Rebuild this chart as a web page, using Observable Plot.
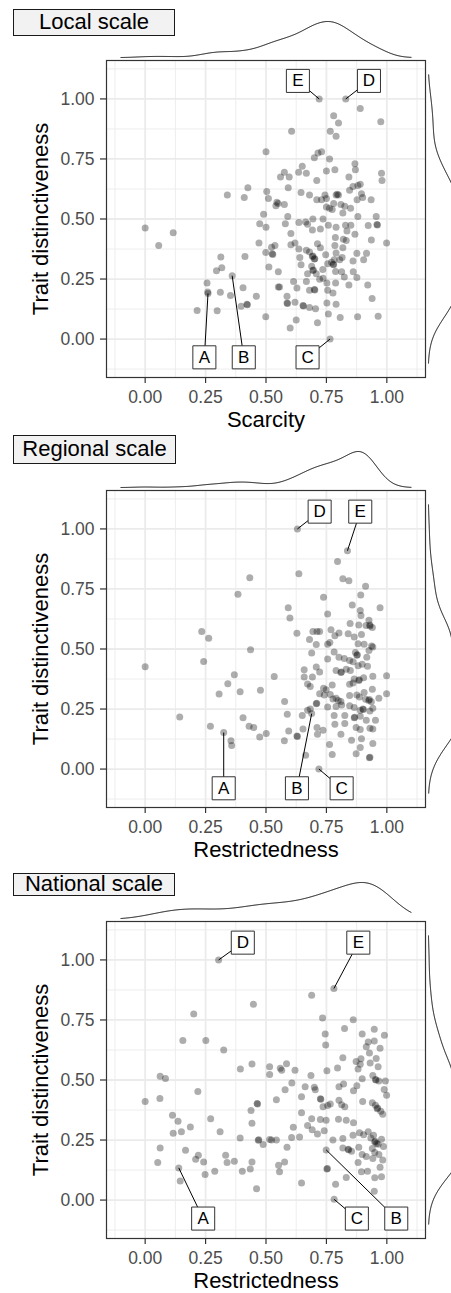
<!DOCTYPE html>
<html>
<head>
<meta charset="utf-8">
<script src="https://cdn.jsdelivr.net/npm/d3@7"></script>
<script src="https://cdn.jsdelivr.net/npm/@observablehq/plot@0.6"></script>
<style>
  body { margin: 0; background: #ffffff; }
  #root { position: relative; width: 451px; height: 1293px; overflow: hidden; font-family: "Liberation Sans", Arial, Helvetica, sans-serif; }
  .panel { position: absolute; left: 0; width: 451px; height: 431px; }
  .panel svg { position: absolute; overflow: visible; }
  .title { position: absolute; left: 13px; box-sizing: border-box; border: 1.3px solid #1a1a1a; background: #f2f2f2; color: #000; font-size: 22px; text-align: center; z-index: 5; }
</style>
</head>
<body>
<div id="root"></div>
<script>
// ---------- data ----------
const panelTitles = ["Local scale", "Regional scale", "National scale"];
const xTitles = ["Scarcity", "Restrictedness", "Restrictedness"];
const yTitle = "Trait distinctiveness";
const majorTicks = [0, 0.25, 0.5, 0.75, 1];
const minorTicks = [-0.125, 0.125, 0.375, 0.625, 0.875, 1.125];

// [x, trait distinctiveness]
const localPts = [[0.72,1.00],[0.83,1.00],[0.89,0.96],[0.78,0.93],[0.80,0.90],[0.975,0.905],[0.606,0.865],[0.766,0.865],[0.79,0.845],[0.50,0.78],[0.715,0.775],[0.73,0.78],[0.70,0.755],[0.763,0.75],[0.868,0.73],[0.87,0.705],[0.65,0.72],[0.635,0.695],[0.667,0.69],[0.576,0.695],[0.56,0.675],[0.596,0.675],[0.75,0.70],[0.785,0.705],[0.978,0.69],[0.98,0.66],[0.843,0.675],[0.71,0.66],[0.88,0.64],[0.86,0.635],[0.89,0.645],[0.425,0.63],[0.592,0.63],[0.503,0.615],[0.34,0.60],[0.41,0.59],[0.645,0.61],[0.68,0.60],[0.744,0.60],[0.75,0.585],[0.79,0.60],[0.80,0.60],[0.795,0.603],[0.846,0.62],[0.895,0.605],[0.90,0.59],[0.877,0.58],[0.935,0.58],[0.51,0.585],[0.545,0.57],[0.55,0.565],[0.576,0.56],[0.541,0.555],[0.71,0.58],[0.73,0.58],[0.75,0.55],[0.763,0.545],[0.78,0.565],[0.774,0.54],[0.81,0.56],[0.826,0.553],[0.85,0.545],[0.818,0.525],[0.49,0.52],[0.59,0.51],[0.694,0.50],[0.736,0.50],[0.88,0.51],[0.956,0.51],[0.474,0.48],[0.50,0.466],[0.58,0.48],[0.636,0.485],[0.664,0.487],[0.672,0.478],[0.758,0.474],[0.79,0.466],[0.829,0.474],[0.851,0.474],[0.923,0.473],[0.959,0.477],[0.961,0.475],[0.0,0.463],[0.116,0.443],[0.056,0.39],[0.603,0.44],[0.692,0.454],[0.725,0.458],[0.787,0.423],[0.835,0.45],[0.868,0.436],[0.82,0.416],[0.832,0.41],[0.936,0.413],[0.999,0.40],[0.471,0.40],[0.62,0.40],[0.603,0.393],[0.713,0.397],[0.725,0.38],[0.785,0.39],[0.818,0.38],[0.537,0.39],[0.523,0.382],[0.499,0.361],[0.526,0.355],[0.528,0.352],[0.636,0.375],[0.667,0.37],[0.68,0.363],[0.692,0.344],[0.694,0.346],[0.70,0.333],[0.702,0.335],[0.747,0.351],[0.79,0.358],[0.876,0.357],[0.916,0.357],[0.413,0.344],[0.313,0.342],[0.64,0.34],[0.86,0.325],[0.904,0.33],[0.815,0.34],[0.805,0.33],[0.782,0.33],[0.771,0.32],[0.78,0.31],[0.778,0.312],[0.755,0.314],[0.735,0.29],[0.512,0.30],[0.645,0.31],[0.689,0.303],[0.694,0.286],[0.696,0.288],[0.317,0.297],[0.295,0.285],[0.36,0.264],[0.551,0.28],[0.672,0.272],[0.708,0.272],[0.788,0.281],[0.813,0.28],[0.861,0.28],[0.876,0.256],[0.614,0.24],[0.667,0.24],[0.722,0.249],[0.736,0.253],[0.752,0.234],[0.788,0.234],[0.824,0.259],[0.843,0.225],[0.921,0.225],[0.256,0.234],[0.259,0.196],[0.26,0.19],[0.311,0.195],[0.353,0.181],[0.405,0.214],[0.46,0.178],[0.551,0.217],[0.556,0.217],[0.628,0.213],[0.70,0.206],[0.702,0.204],[0.68,0.203],[0.755,0.203],[0.777,0.192],[0.587,0.178],[0.587,0.15],[0.589,0.148],[0.62,0.153],[0.653,0.14],[0.655,0.138],[0.68,0.131],[0.705,0.126],[0.752,0.15],[0.79,0.145],[0.939,0.169],[0.397,0.137],[0.421,0.145],[0.423,0.143],[0.215,0.119],[0.298,0.118],[0.499,0.093],[0.625,0.079],[0.60,0.046],[0.713,0.068],[0.758,0.104],[0.807,0.09],[0.879,0.093],[0.964,0.095],[0.765,0.0]];

const regionalPts = [[0.63,1.00],[0.837,0.909],[0.796,0.864],[0.636,0.813],[0.433,0.797],[0.818,0.793],[0.843,0.784],[0.912,0.761],[0.384,0.728],[0.738,0.716],[0.892,0.725],[0.857,0.683],[0.972,0.672],[0.592,0.672],[0.599,0.629],[0.755,0.646],[0.89,0.66],[0.893,0.64],[0.926,0.62],[0.848,0.606],[0.884,0.60],[0.914,0.598],[0.93,0.596],[0.94,0.59],[0.93,0.6],[0.234,0.573],[0.263,0.545],[0.628,0.566],[0.694,0.573],[0.711,0.573],[0.722,0.573],[0.769,0.58],[0.802,0.567],[0.785,0.555],[0.84,0.563],[0.865,0.55],[0.895,0.56],[0.68,0.54],[0.708,0.519],[0.755,0.52],[0.764,0.527],[0.881,0.522],[0.906,0.52],[0.937,0.513],[0.942,0.508],[0.436,0.497],[0.689,0.483],[0.782,0.488],[0.87,0.485],[0.876,0.474],[0.878,0.476],[0.926,0.494],[0.917,0.466],[0.802,0.466],[0.824,0.46],[0.846,0.452],[0.86,0.447],[0.755,0.458],[0.881,0.43],[0.898,0.436],[0.92,0.428],[0.242,0.448],[0.0,0.426],[0.708,0.425],[0.658,0.414],[0.722,0.404],[0.79,0.41],[0.81,0.402],[0.812,0.404],[0.832,0.416],[0.849,0.41],[0.369,0.393],[0.534,0.385],[0.658,0.383],[0.692,0.383],[0.865,0.375],[0.884,0.369],[0.904,0.38],[0.886,0.372],[0.942,0.387],[0.999,0.389],[0.342,0.355],[0.672,0.354],[0.683,0.344],[0.774,0.35],[0.738,0.337],[0.749,0.33],[0.846,0.353],[0.86,0.358],[0.94,0.332],[0.306,0.313],[0.393,0.322],[0.477,0.328],[0.722,0.314],[0.741,0.308],[0.766,0.311],[0.777,0.292],[0.799,0.286],[0.81,0.281],[0.79,0.295],[0.846,0.306],[0.876,0.308],[0.887,0.30],[0.906,0.319],[0.912,0.291],[0.925,0.286],[0.936,0.28],[0.928,0.29],[0.967,0.295],[0.999,0.314],[0.577,0.281],[0.708,0.272],[0.710,0.274],[0.755,0.259],[0.79,0.261],[0.813,0.267],[0.846,0.264],[0.865,0.256],[0.89,0.245],[0.901,0.25],[0.903,0.248],[0.93,0.242],[0.942,0.253],[0.672,0.245],[0.683,0.25],[0.689,0.231],[0.588,0.228],[0.65,0.223],[0.782,0.223],[0.826,0.223],[0.865,0.214],[0.867,0.216],[0.89,0.22],[0.915,0.203],[0.953,0.203],[0.143,0.217],[0.27,0.178],[0.325,0.152],[0.355,0.118],[0.358,0.098],[0.405,0.214],[0.43,0.178],[0.449,0.173],[0.474,0.134],[0.501,0.148],[0.594,0.159],[0.576,0.118],[0.628,0.138],[0.630,0.136],[0.653,0.167],[0.711,0.173],[0.713,0.145],[0.736,0.162],[0.785,0.187],[0.81,0.145],[0.826,0.19],[0.873,0.173],[0.89,0.165],[0.93,0.17],[0.942,0.167],[0.854,0.12],[0.895,0.126],[0.763,0.102],[0.89,0.09],[0.942,0.107],[0.664,0.058],[0.774,0.061],[0.873,0.064],[0.928,0.047],[0.930,0.049],[0.719,0.0]];

const nationalPts = [[0.304,1.00],[0.781,0.881],[0.689,0.853],[0.448,0.815],[0.201,0.775],[0.734,0.758],[0.861,0.751],[0.825,0.714],[0.948,0.711],[0.898,0.692],[0.99,0.686],[0.745,0.692],[0.747,0.646],[0.156,0.665],[0.251,0.665],[0.325,0.625],[0.923,0.658],[0.948,0.662],[0.915,0.638],[0.972,0.632],[0.928,0.612],[0.956,0.59],[0.818,0.593],[0.873,0.577],[0.893,0.588],[0.931,0.571],[0.964,0.555],[0.394,0.546],[0.442,0.567],[0.515,0.555],[0.515,0.523],[0.559,0.549],[0.565,0.541],[0.585,0.568],[0.62,0.541],[0.752,0.538],[0.796,0.55],[0.881,0.546],[0.89,0.566],[0.942,0.519],[0.953,0.502],[0.955,0.500],[0.967,0.496],[0.994,0.496],[0.898,0.505],[0.862,0.455],[0.062,0.516],[0.084,0.506],[0.686,0.519],[0.607,0.488],[0.662,0.472],[0.70,0.47],[0.704,0.459],[0.821,0.483],[0.802,0.472],[0.876,0.476],[0.989,0.46],[0.999,0.436],[0.218,0.452],[0.579,0.459],[0.647,0.43],[0.725,0.422],[0.727,0.42],[0.736,0.389],[0.766,0.40],[0.755,0.394],[0.802,0.416],[0.813,0.397],[0.826,0.389],[0.90,0.41],[0.94,0.405],[0.953,0.395],[0.962,0.383],[0.975,0.37],[0.983,0.357],[0.96,0.38],[0.061,0.423],[0.0,0.41],[0.543,0.418],[0.463,0.402],[0.465,0.400],[0.438,0.373],[0.113,0.353],[0.136,0.328],[0.116,0.278],[0.15,0.284],[0.187,0.304],[0.271,0.339],[0.31,0.285],[0.442,0.32],[0.393,0.259],[0.468,0.249],[0.470,0.251],[0.488,0.231],[0.515,0.252],[0.523,0.25],[0.543,0.25],[0.606,0.261],[0.639,0.263],[0.613,0.303],[0.647,0.364],[0.689,0.339],[0.725,0.336],[0.749,0.332],[0.672,0.311],[0.691,0.293],[0.713,0.275],[0.741,0.289],[0.80,0.337],[0.832,0.332],[0.862,0.322],[0.777,0.25],[0.818,0.256],[0.86,0.27],[0.887,0.28],[0.904,0.272],[0.923,0.285],[0.934,0.258],[0.95,0.242],[0.964,0.232],[0.94,0.215],[0.952,0.245],[0.958,0.236],[0.945,0.27],[0.978,0.253],[0.986,0.223],[0.062,0.217],[0.167,0.207],[0.052,0.156],[0.209,0.17],[0.22,0.187],[0.242,0.159],[0.139,0.134],[0.145,0.079],[0.248,0.107],[0.288,0.12],[0.333,0.187],[0.339,0.156],[0.369,0.162],[0.402,0.12],[0.435,0.129],[0.442,0.159],[0.461,0.047],[0.587,0.22],[0.552,0.145],[0.556,0.118],[0.577,0.159],[0.647,0.071],[0.749,0.209],[0.752,0.129],[0.754,0.131],[0.788,0.066],[0.832,0.094],[0.818,0.217],[0.84,0.212],[0.842,0.210],[0.854,0.203],[0.884,0.22],[0.881,0.156],[0.895,0.118],[0.92,0.12],[0.898,0.19],[0.915,0.181],[0.942,0.173],[0.95,0.198],[0.967,0.19],[0.983,0.167],[0.972,0.137],[0.95,0.093],[0.978,0.097],[0.948,0.037],[0.782,0.003]];

// labelled species: point (x, y) and label position (lx, ly), in data units
const localLabels = [
  {label: "A", x: 0.26, y: 0.19, lx: 0.245, ly: -0.076},
  {label: "B", x: 0.36, y: 0.264, lx: 0.408, ly: -0.076},
  {label: "C", x: 0.765, y: 0.0, lx: 0.672, ly: -0.076},
  {label: "D", x: 0.83, y: 1.0, lx: 0.926, ly: 1.075},
  {label: "E", x: 0.72, y: 1.0, lx: 0.632, ly: 1.075}
];
const regionalLabels = [
  {label: "A", x: 0.325, y: 0.152, lx: 0.325, ly: -0.08},
  {label: "B", x: 0.689, y: 0.231, lx: 0.628, ly: -0.08},
  {label: "C", x: 0.719, y: 0.0, lx: 0.813, ly: -0.08},
  {label: "D", x: 0.63, y: 1.0, lx: 0.722, ly: 1.072},
  {label: "E", x: 0.837, y: 0.909, lx: 0.89, ly: 1.072}
];
const nationalLabels = [
  {label: "A", x: 0.139, y: 0.134, lx: 0.24, ly: -0.077},
  {label: "B", x: 0.749, y: 0.209, lx: 1.039, ly: -0.077},
  {label: "C", x: 0.782, y: 0.003, lx: 0.876, ly: -0.077},
  {label: "D", x: 0.304, y: 1.0, lx: 0.404, ly: 1.072},
  {label: "E", x: 0.781, y: 0.881, lx: 0.882, ly: 1.072}
];

// ---------- layout ----------
const FONT = '"Liberation Sans", Arial, Helvetica, sans-serif';
const layout = [
  {top: 0, titleTop: 9, titleH: 27, titleW: 162},
  {top: 430, titleTop: 5, titleH: 29, titleW: 163},
  {top: 861, titleTop: 12, titleH: 23, titleW: 162}
];
const DOMAIN = [-0.16, 1.16];
const fmt = d => d.toFixed(2);

// kernel density (gaussian, Silverman bandwidth) over the plotting limits, as ggMarginal does
function kde(values) {
  const v = values.slice().sort(d3.ascending);
  const n = v.length;
  const sd = d3.deviation(v);
  const iqr = d3.quantileSorted(v, 0.75) - d3.quantileSorted(v, 0.25);
  const bw = 0.9 * Math.min(sd, iqr / 1.34) * Math.pow(n, -0.2);
  const grid = d3.ticks(-0.1, 1.1, 400);
  return grid.map(t => ({t, d: d3.sum(v, x => Math.exp(-0.5 * ((t - x) / bw) ** 2)) / (n * bw * Math.sqrt(2 * Math.PI))}));
}

function mainPlot(pts, labs, xTitle) {
  const data = pts.map(([x, y]) => ({x, y}));
  return Plot.plot({
    width: 451, height: 431,
    marginLeft: 106, marginRight: 26, marginTop: 60, marginBottom: 54,
    x: {domain: DOMAIN},
    y: {domain: DOMAIN},
    style: {fontFamily: FONT, fontSize: "17.5px", background: "transparent", overflow: "visible"},
    marks: [
      Plot.ruleX(minorTicks, {stroke: "#ebebeb", strokeWidth: 0.9}),
      Plot.ruleY(minorTicks, {stroke: "#ebebeb", strokeWidth: 0.9}),
      Plot.ruleX(majorTicks, {stroke: "#ebebeb", strokeWidth: 1.8}),
      Plot.ruleY(majorTicks, {stroke: "#ebebeb", strokeWidth: 1.8}),
      Plot.dot(data, {x: "x", y: "y", r: 3.5, fill: "black", fillOpacity: 0.32}),
      Plot.link(labs, {x1: "x", y1: "y", x2: "lx", y2: "ly", stroke: "black", strokeWidth: 1}),
      Plot.dot(labs, {x: "lx", y: "ly", symbol: "square", r: 13, fill: "white", stroke: "#333333", strokeWidth: 1}),
      Plot.text(labs, {x: "lx", y: "ly", text: "label", fontSize: 17, fill: "black"}),
      Plot.frame({stroke: "#333333", strokeWidth: 1.2}),
      Plot.axisX({ticks: majorTicks, tickFormat: fmt, tickSize: 6, tickPadding: 7, stroke: "#333333", fill: "#4d4d4d", strokeWidth: 1.2, label: null}),
      Plot.axisY({ticks: majorTicks, tickFormat: fmt, tickSize: 6, tickPadding: 6, stroke: "#333333", fill: "#4d4d4d", strokeWidth: 1.2, label: null}),
      Plot.text([xTitle], {frameAnchor: "bottom", textAnchor: "middle", lineAnchor: "middle", dy: 42, fontSize: 22, fill: "black"}),
      Plot.text([yTitle], {frameAnchor: "left", textAnchor: "middle", lineAnchor: "middle", dx: -66, rotate: -90, fontSize: 22, fill: "black"})
    ]
  });
}

function topDensity(values) {
  return Plot.plot({
    width: 451, height: 60,
    marginLeft: 106, marginRight: 26, marginTop: 21, marginBottom: 3,
    x: {domain: DOMAIN, axis: null},
    y: {axis: null},
    style: {background: "transparent", overflow: "visible"},
    marks: [Plot.line(kde(values), {x: "t", y: "d", stroke: "black", strokeWidth: 1})]
  });
}

function rightDensity(values) {
  return Plot.plot({
    width: 40, height: 431,
    marginLeft: 2, marginRight: 2, marginTop: 60, marginBottom: 54,
    x: {axis: null},
    y: {domain: DOMAIN, axis: null},
    style: {background: "transparent", overflow: "visible"},
    marks: [Plot.line(kde(values), {x: "d", y: "t", stroke: "black", strokeWidth: 1})]
  });
}

const allPts = [localPts, regionalPts, nationalPts];
const allLabels = [localLabels, regionalLabels, nationalLabels];
const root = document.getElementById("root");

layout.forEach((L, i) => {
  const panel = document.createElement("div");
  panel.className = "panel";
  panel.style.top = L.top + "px";
  root.appendChild(panel);

  const pts = allPts[i];
  const xs = pts.map(d => d[0]);
  const ys = pts.map(d => d[1]);

  const main = mainPlot(pts, allLabels[i], xTitles[i]);
  main.style.left = "0px"; main.style.top = "0px";
  panel.appendChild(main);

  const td = topDensity(xs);
  td.style.left = "0px"; td.style.top = "0px";
  panel.appendChild(td);

  const rd = rightDensity(ys);
  rd.style.left = "426px"; rd.style.top = "0px";
  panel.appendChild(rd);

  const t = document.createElement("div");
  t.className = "title";
  t.textContent = panelTitles[i];
  t.style.top = L.titleTop + "px";
  t.style.height = L.titleH + "px";
  t.style.width = L.titleW + "px";
  t.style.lineHeight = (L.titleH - 2.6) + "px";
  panel.appendChild(t);
});
</script>
</body>
</html>
